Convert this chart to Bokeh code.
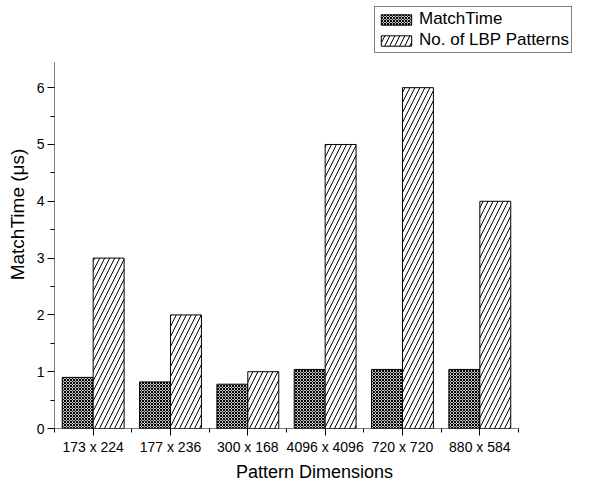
from bokeh.plotting import figure
from bokeh.models import (Range1d, FixedTicker, LinearAxis, Legend, LegendItem,
                          CustomJSTickFormatter)
from bokeh.embed import file_html
from bokeh.resources import INLINE

categories = ["173 x 224", "177 x 236", "300 x 168", "4096 x 4096", "720 x 720", "880 x 584"]
match_time = [0.90, 0.82, 0.78, 1.04, 1.04, 1.04]
lbp_patterns = [3, 2, 1, 5, 6, 4]
y_ticks = [0, 1, 2, 3, 4, 5, 6]
y_axis_top = 6.45

FONT = "Liberation Sans"
n = len(categories)
centers = [i + 0.5 for i in range(n)]
bw = 0.4
dark_x = [c - bw / 2 for c in centers]
hatch_x = [c + bw / 2 for c in centers]

W, H = 574, 484
LEFT, BOTTOM = 54, 50
FRAME_W = W - LEFT
FRAME_H = H - BOTTOM
X_UNIT = 77.33
Y_UNIT = 57.6

p = figure(width=W, height=H, output_backend="svg", toolbar_location=None,
           x_range=Range1d(0, FRAME_W / X_UNIT), y_range=Range1d(0, FRAME_H / Y_UNIT),
           min_border_left=LEFT, min_border_right=0,
           min_border_top=0, min_border_bottom=BOTTOM,
           x_axis_location=None, y_axis_location=None)
p.outline_line_color = None
p.xgrid.visible = False
p.ygrid.visible = False
p.background_fill_color = "white"
p.border_fill_color = "white"

r1 = p.vbar(x=dark_x, top=match_time, width=bw, bottom=0,
            fill_color="#c8c8c8", line_color="black", line_width=1,
            hatch_pattern="diagonal_cross", hatch_scale=3, hatch_color="black", hatch_weight=1)
r2 = p.vbar(x=hatch_x, top=lbp_patterns, width=bw, bottom=0,
            fill_color="white", line_color="black", line_width=1,
            hatch_pattern="right_diagonal_line", hatch_scale=10, hatch_color="black", hatch_weight=1)

# axis lines (limited to the data area)
p.segment(x0=[0, 0], y0=[0, 0], x1=[n, 0], y1=[0, y_axis_top], line_color="black", line_width=1)

# y axis
yax = LinearAxis(ticker=FixedTicker(ticks=y_ticks, minor_ticks=[i + 0.5 for i in range(7) if i + 0.5 < y_axis_top]),
                 axis_label="MatchTime (\u03bcs)")
yax.axis_line_color = None
yax.major_tick_out = 7
yax.major_tick_in = 0
yax.minor_tick_out = 4
yax.minor_tick_in = 0
yax.major_label_text_font = FONT
yax.major_label_text_font_size = "14px"
yax.major_label_text_color = "black"
yax.axis_label_text_font = FONT
yax.axis_label_text_font_size = "19px"
yax.axis_label_text_font_style = "normal"
yax.axis_label_text_color = "black"
yax.major_label_standoff = 3
yax.axis_label_standoff = 6
p.add_layout(yax, "left")

# x axis
labels_js = "const labs = %s; const i = Math.floor(tick); return (i >= 0 && i < labs.length) ? labs[i] : '';" % (
    "[" + ",".join('"%s"' % c for c in categories) + "]")
xax = LinearAxis(ticker=FixedTicker(ticks=centers, minor_ticks=list(range(n + 1))),
                 formatter=CustomJSTickFormatter(code=labels_js),
                 axis_label="Pattern Dimensions")
xax.axis_line_color = None
xax.major_tick_out = 7
xax.major_tick_in = 0
xax.minor_tick_out = 4
xax.minor_tick_in = 0
xax.major_label_text_font = FONT
xax.major_label_text_font_size = "14px"
xax.major_label_text_color = "black"
xax.axis_label_text_font = FONT
xax.axis_label_text_font_size = "18px"
xax.axis_label_text_font_style = "normal"
xax.axis_label_text_color = "black"
xax.major_label_standoff = 3
xax.axis_label_standoff = 4
p.add_layout(xax, "below")

LEG_H = 41
LEG_TOP = 18
legend = Legend(items=[LegendItem(label="MatchTime", renderers=[r1]),
                       LegendItem(label="No. of LBP Patterns", renderers=[r2])],
                location=(374 - LEFT, FRAME_H - LEG_TOP - LEG_H))
p.add_layout(legend, "center")
legend.border_line_color = "black"
legend.border_line_width = 1
legend.background_fill_alpha = 1
legend.label_text_font = FONT
legend.label_text_font_size = "17px"
legend.label_text_color = "black"
legend.glyph_width = 38
legend.glyph_height = 13
legend.label_height = 18
legend.label_standoff = 4
legend.spacing = 1
legend.padding = 2
legend.margin = 0

open("out.html", "w").write(file_html(p, INLINE))
